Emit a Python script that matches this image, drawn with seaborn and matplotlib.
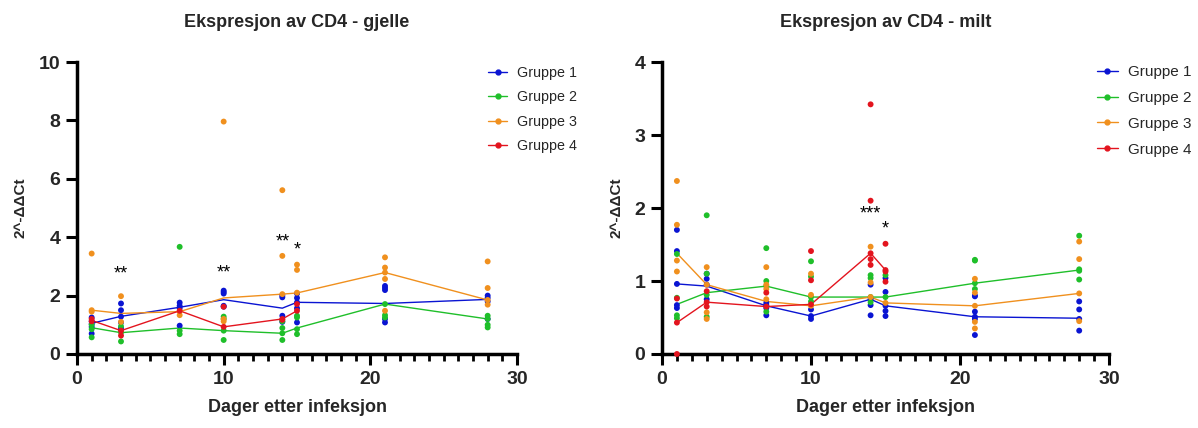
import numpy as np
import pandas as pd
import matplotlib
matplotlib.use("Agg")
import matplotlib.pyplot as plt
from matplotlib.lines import Line2D
from matplotlib.ticker import MultipleLocator
import seaborn as sns

# ---------------- data ----------------
groups = ["Gruppe 1", "Gruppe 2", "Gruppe 3", "Gruppe 4"]
colors = ["#0a14d2", "#1fbf2a", "#f0901e", "#e3141e"]
days = [1, 3, 7, 10, 14, 15, 21, 28]
days_g4 = [1, 3, 7, 10, 14, 15]

# Gjelle (gill) - mean lines
gj_g1_mean = [1.05, 1.29, 1.60, 1.86, 1.57, 1.77, 1.73, 1.87]
gj_g2_mean = [0.90, 0.73, 0.89, 0.80, 0.71, 0.89, 1.71, 1.20]
gj_g3_mean = [1.50, 1.39, 1.45, 1.92, 2.05, 2.09, 2.79, 1.85]
gj_g4_mean = [1.15, 0.80, 1.48, 0.93, 1.20, 1.48]

# Gjelle - individual points per day
gj_g1_pts = {1: [1.25, 1.12, 1.03, 0.93, 0.70], 3: [1.73, 1.50, 1.28, 1.08, 0.89],
             7: [1.76, 1.65, 1.57, 0.97], 10: [2.17, 2.12, 2.07, 1.65, 1.62],
             14: [2.00, 1.94, 1.31, 1.10], 15: [2.07, 1.92, 1.77, 1.57, 1.08],
             21: [2.33, 2.26, 2.19, 1.20, 1.08], 28: [2.00, 1.92, 1.80, 1.20]}
gj_g2_pts = {1: [1.00, 0.85, 0.57], 3: [0.95, 0.74, 0.43], 7: [3.67, 0.80, 0.68],
             10: [1.28, 1.20, 0.80, 0.48], 14: [1.12, 0.89, 0.71, 0.48],
             15: [1.31, 1.25, 0.85, 0.68], 21: [1.71, 1.33, 1.25],
             28: [1.31, 1.20, 1.00, 0.91]}
gj_g3_pts = {1: [3.44, 1.50, 1.45], 3: [1.98, 1.10], 7: [1.46, 1.33],
             10: [7.96, 1.20, 1.12], 14: [5.61, 3.36, 2.05], 15: [3.06, 2.88, 2.10],
             21: [3.31, 2.96, 2.79, 2.57, 1.48], 28: [3.17, 2.26, 1.85, 1.69]}
gj_g4_pts = {1: [1.20, 1.12], 3: [0.80, 0.63], 7: [1.48], 10: [1.62, 0.93],
             14: [1.20, 1.17], 15: [1.71, 1.48]}

# Milt (spleen) - mean lines
mi_g1_mean = [0.96, 0.93, 0.66, 0.52, 0.75, 0.66, 0.51, 0.49]
mi_g2_mean = [0.68, 0.84, 0.93, 0.78, 0.78, 0.78, 0.97, 1.15]
mi_g3_mean = [1.38, 0.95, 0.72, 0.66, 0.78, 0.70, 0.66, 0.83]
mi_g4_mean = [0.43, 0.71, 0.65, 0.68, 1.38, 1.15]

mi_g1_pts = {1: [1.70, 1.41, 0.96, 0.67, 0.63], 3: [1.10, 1.03, 0.95, 0.75],
             7: [0.70, 0.67, 0.63, 0.53], 10: [0.61, 0.52, 0.48],
             14: [0.95, 0.75, 0.67, 0.53], 15: [1.04, 0.85, 0.66, 0.59, 0.52],
             21: [0.80, 0.79, 0.58, 0.51, 0.48, 0.26], 28: [0.72, 0.61, 0.48, 0.32]}
mi_g2_pts = {1: [1.37, 0.77, 0.53, 0.49], 3: [1.90, 1.10, 0.81, 0.51],
             7: [1.45, 1.00, 0.93, 0.58], 10: [1.27, 1.06, 0.78, 0.72],
             14: [1.08, 1.04, 0.78, 0.71], 15: [1.08, 0.78],
             21: [1.29, 1.28, 0.97, 0.89], 28: [1.62, 1.16, 1.14, 1.02]}
mi_g3_pts = {1: [2.37, 1.77, 1.28, 1.13], 3: [1.19, 0.95, 0.57, 0.48],
             7: [1.19, 0.95, 0.89, 0.75], 10: [1.10, 0.81, 0.66],
             14: [1.47, 0.98, 0.78], 15: [0.70], 21: [1.03, 0.84, 0.66, 0.44, 0.35],
             28: [1.54, 1.30, 0.83, 0.45]}
mi_g4_pts = {1: [0.76, 0.43, 0.00], 3: [0.86, 0.71, 0.65], 7: [0.84, 0.65],
             10: [1.41, 1.01, 0.68], 14: [3.42, 2.10, 1.38, 1.30, 1.22],
             15: [1.51, 1.15, 1.13, 0.99]}

# significance marks: (day, y, text)
gj_sig = [(3, 2.75, "**"), (10, 2.78, "**"), (14, 3.85, "**"), (15, 3.55, "*")]
mi_sig = [(14, 1.92, "***"), (15, 1.71, "*")]

titles = ["Ekspresjon av CD4 - gjelle", "Ekspresjon av CD4 - milt"]
xlabel = "Dager etter infeksjon"
ylabel = "2^-ΔΔCt"


def long_points(pts_list):
    rows = []
    for g, pts in zip(groups, pts_list):
        for d, vals in pts.items():
            for v in vals:
                rows.append({"day": d, "value": v, "group": g})
    return pd.DataFrame(rows)


def long_means(means_list):
    rows = []
    for g, m in zip(groups, means_list):
        dd = days if len(m) == len(days) else days_g4
        for d, v in zip(dd, m):
            rows.append({"day": d, "value": v, "group": g})
    return pd.DataFrame(rows)


sns.set_style("white")
plt.rcParams["font.family"] = ["Liberation Sans", "DejaVu Sans"]

fig = plt.figure(figsize=(11.98, 4.28), dpi=100)
ax1 = fig.add_axes([77 / 1198, 1 - 354 / 428, 440 / 1198, 292 / 428])
ax2 = fig.add_axes([662 / 1198, 1 - 354 / 428, 447 / 1198, 292 / 428])

palette = dict(zip(groups, colors))

panels = [
    (ax1, [gj_g1_pts, gj_g2_pts, gj_g3_pts, gj_g4_pts],
     [gj_g1_mean, gj_g2_mean, gj_g3_mean, gj_g4_mean], gj_sig, 10, 2),
    (ax2, [mi_g1_pts, mi_g2_pts, mi_g3_pts, mi_g4_pts],
     [mi_g1_mean, mi_g2_mean, mi_g3_mean, mi_g4_mean], mi_sig, 4, 1),
]

legend_cfg = [
    dict(x=488, top=66, fs=10.3, spacing=0.72),
    dict(x=1097, top=65, fs=11.0, spacing=0.78),
]

for i, (ax, pts, means, sig, ymax, ystep) in enumerate(panels):
    dfp = long_points(pts)
    dfm = long_means(means)
    sns.lineplot(data=dfm, x="day", y="value", hue="group", palette=palette,
                 linewidth=1.0, ax=ax, legend=False, estimator=None, zorder=2)
    sns.scatterplot(data=dfp, x="day", y="value", hue="group", palette=palette,
                    s=18, linewidth=0, ax=ax, legend=False, zorder=3, clip_on=False)
    for d, y, t in sig:
        ax.text(d, y, t, ha="center", va="center", fontsize=13, color="black")

    ax.set_xlim(0, 30)
    ax.set_ylim(0, ymax)
    ax.xaxis.set_major_locator(MultipleLocator(10))
    ax.xaxis.set_minor_locator(MultipleLocator(1))
    ax.yaxis.set_major_locator(MultipleLocator(ystep))
    for s in ["top", "right"]:
        ax.spines[s].set_visible(False)
    for s in ["left", "bottom"]:
        ax.spines[s].set_linewidth(2.5)
        ax.spines[s].set_color("black")
    ax.tick_params(axis="both", which="major", direction="out", length=8, width=2.2,
                   labelsize=14, color="black", bottom=True, left=True, pad=4)
    ax.tick_params(axis="x", which="minor", direction="out", length=5, width=2.0,
                   color="black", bottom=True)
    for lab in ax.get_xticklabels() + ax.get_yticklabels():
        lab.set_fontweight("bold")
    ax.set_xlabel(xlabel, fontsize=13, fontweight="bold", labelpad=8)
    ax.set_ylabel(ylabel, fontsize=11, fontweight="bold", labelpad=8)
    ax.set_title(titles[i], fontsize=13, fontweight="bold", pad=25)

    cfg = legend_cfg[i]
    handles = [Line2D([0], [0], color=c, lw=1.0, marker="o", markersize=3.5)
               for c in colors]
    ax.legend(handles, groups, loc="upper left",
              bbox_to_anchor=(cfg["x"] / 1198, 1 - cfg["top"] / 428),
              bbox_transform=fig.transFigure, frameon=False, fontsize=cfg["fs"],
              handlelength=1.35, handletextpad=0.7, labelspacing=cfg["spacing"],
              borderaxespad=0, borderpad=0)

fig.savefig("out.png", dpi=100)
